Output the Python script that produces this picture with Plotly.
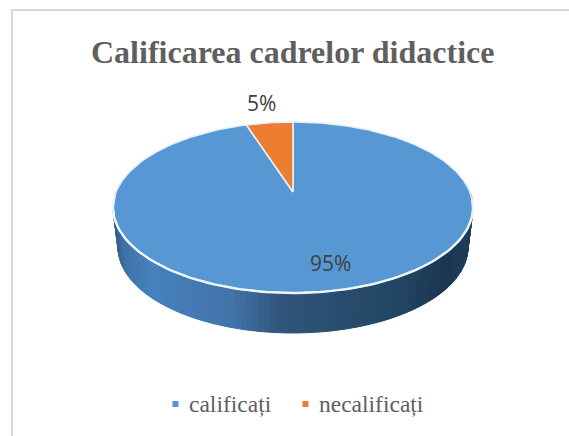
import math
import plotly.graph_objects as go

# ---- data ----
categories = ["calificați", "necalificați"]
values = [95, 5]
title_text = "Calificarea cadrelor didactice"

# ---- style ----
W, H = 569, 436
slice_colors = ["#5797D4", "#ED7D31"]
text_grey = "#5f5f5f"
label_grey = "#404040"
side_stops = [(113, "#34618f"), (122, "#3f74a8"), (150, "#4682bd"), (230, "#4274a8"),
              (280, "#31557d"), (305, "#2e5275"), (400, "#234564"), (445, "#1b3650"), (473, "#1f3d5a")]

# ---- projection of the pie disc (perspective view) ----
CX, CY = 293, 192
A, B, K = 177, 82.7, 0.181
DEPTH = 40


def project(theta, r=1.0, drop=0.0, shrink=1.0):
    """theta in degrees clockwise from 12 o'clock."""
    u = r * math.sin(math.radians(theta))
    v = r * math.cos(math.radians(theta))
    d = 1 + K * v
    return CX + A * shrink * u / d, CY - B * v / d + drop


def arc(a0, a1, n, **kw):
    pts = [project(a0 + (a1 - a0) * i / n, **kw) for i in range(n + 1)]
    return [p[0] for p in pts], [p[1] for p in pts]


def hex_rgb(h):
    return [int(h[i:i + 2], 16) for i in (1, 3, 5)]


def side_color(x):
    for (x0, c0), (x1, c1) in zip(side_stops, side_stops[1:]):
        if x <= x1:
            t = max(0, (x - x0) / (x1 - x0))
            a, b = hex_rgb(c0), hex_rgb(c1)
            return "rgb(%d,%d,%d)" % tuple(a[i] + (b[i] - a[i]) * t for i in range(3))
    return side_stops[-1][1]


fig = go.Figure()

# side wall (thin gradient strips around the front of the disc)
STEPS = 120
start, stop = 84, 276
for i in range(STEPS):
    t0 = start + (stop - start) * i / STEPS
    t1 = start + (stop - start) * (i + 1) / STEPS
    xt, yt = arc(t0, t1, 1)
    xb, yb = arc(t0, t1, 1, drop=DEPTH, shrink=0.972)
    col = side_color((xt[0] + xt[1]) / 2)
    fig.add_trace(go.Scatter(x=xt + xb[::-1] + [xt[0]], y=yt + yb[::-1] + [yt[0]], mode="lines",
                             fill="toself", fillcolor=col, line=dict(color=col, width=1),
                             hoverinfo="skip", showlegend=False))

# top-face slices: the orange slice ends at 12 o'clock, the blue one takes the rest
total = sum(values)
orange_sweep = 360 * values[1] / total
spans = [(0, 360 - orange_sweep), (360 - orange_sweep, 360)]
for name, col, val, (a0, a1) in zip(categories, slice_colors, values, spans):
    xs, ys = arc(a0, a1, max(8, int(a1 - a0)))
    fig.add_trace(go.Scatter(x=[CX] + xs + [CX], y=[CY] + ys + [CY], mode="lines", fill="toself",
                             fillcolor=col, line=dict(color="#e8f1fa", width=1.6),
                             name=name, hovertext=f"{name}: {val}%", hoverinfo="text", showlegend=False))

# bright rim along the front edge
xr, yr = arc(95, 268, 120)
fig.add_trace(go.Scatter(x=xr, y=yr, mode="lines", line=dict(color="#edf5fc", width=2.4),
                         hoverinfo="skip", showlegend=False))

# data labels
annotations = []
for val, (lx, ly) in zip(values, [(330, 263), (261, 103)]):
    annotations.append(dict(x=lx, y=ly, xref="x", yref="y", text=f"{val}%", showarrow=False,
                            font=dict(family="Open Sans", size=21, color=label_grey)))

# title
annotations.append(dict(x=292.5, y=52, xref="x", yref="y", text=f"<b>{title_text}</b>", showarrow=False,
                        font=dict(family="Liberation Serif", size=32, color=text_grey)))

# legend
shapes = [
    dict(type="line", x0=12, x1=12, y0=10, y1=H, line=dict(color="#d9d9d9", width=2), layer="below"),
    dict(type="line", x0=11, x1=W, y0=10, y1=10, line=dict(color="#d9d9d9", width=2), layer="below"),
]
for name, col, sx, tx in zip(categories, slice_colors, [175.5, 305.5], [187, 317]):
    shapes.append(dict(type="rect", x0=sx - 3, x1=sx + 3, y0=401, y1=407, fillcolor=col,
                       line=dict(width=0)))
    annotations.append(dict(x=tx, y=404, xref="x", yref="y", xanchor="left", text=name, showarrow=False,
                            font=dict(family="Liberation Serif", size=23.5, color=text_grey)))

fig.update_layout(
    width=W, height=H, margin=dict(l=0, r=0, t=0, b=0),
    paper_bgcolor="white", plot_bgcolor="white", showlegend=False,
    xaxis=dict(range=[0, W], visible=False, fixedrange=True),
    yaxis=dict(range=[H, 0], visible=False, fixedrange=True),
    annotations=annotations, shapes=shapes,
)
fig.write_html("out.html", config=dict(displayModeBar=False),
               post_script="document.body.style.margin='0';document.body.style.overflow='hidden';")
